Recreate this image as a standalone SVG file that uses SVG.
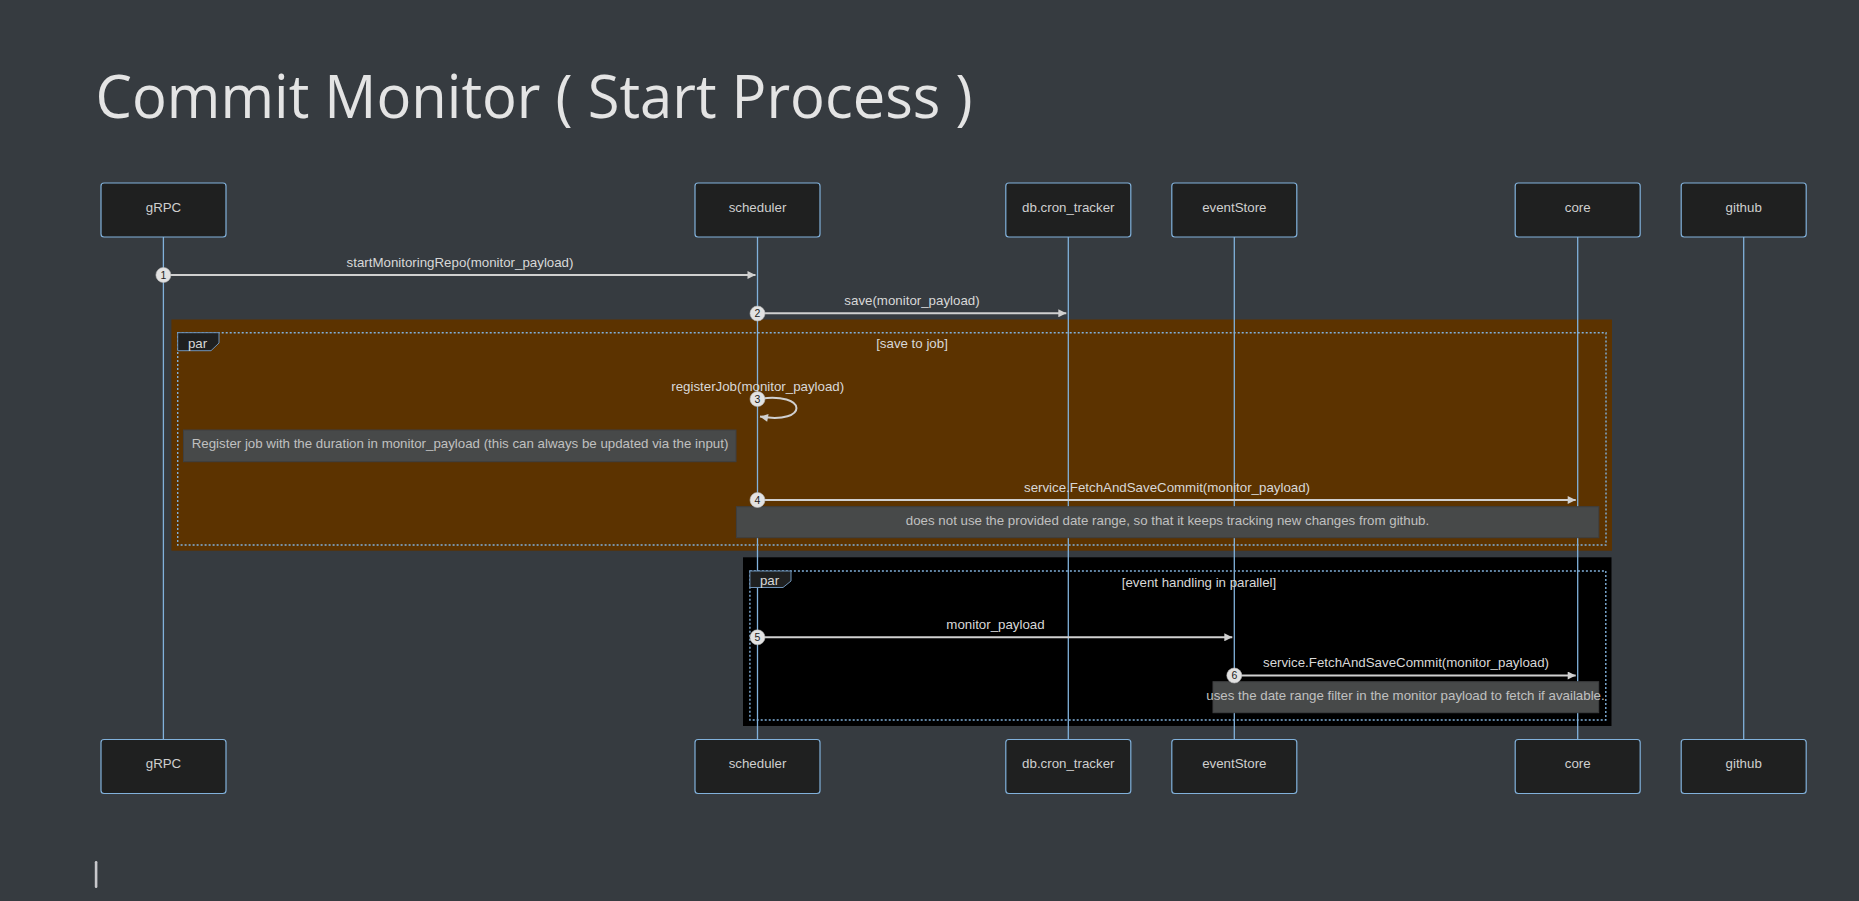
<svg xmlns="http://www.w3.org/2000/svg" width="1859" height="901" viewBox="0 0 1859 901">
<defs>
<marker id="arr" viewBox="0 0 10 10" refX="10" refY="5" markerUnits="userSpaceOnUse" markerWidth="9" markerHeight="8" orient="auto">
<path d="M0,0 L10,5 L0,10 z" fill="#d0d0d0"/>
</marker>
<style>
.actor rect{fill:#1f2020;stroke:#81B1DB;stroke-width:1.2}
.actor text{fill:#cfcfcf;font-family:"Liberation Sans",Arial,sans-serif;font-size:13.3px;text-anchor:middle}
.life{stroke:#81B1DB;stroke-width:1.3}
.msg{stroke:#d0d0d0;stroke-width:2;fill:none;marker-end:url(#arr)}
.lbl{fill:#d8d8d8;font-family:"Liberation Sans",Arial,sans-serif;font-size:13.3px;text-anchor:middle}
.frame{fill:none;stroke:#81B1DB;stroke-width:1.4;stroke-dasharray:2 2}
.tab{fill:#1f2020;stroke:#6f93b8;stroke-width:1}
.note rect{fill:#474949;stroke:#3e3f40;stroke-width:1}
.note text{fill:#c0c0c0;font-family:"Liberation Sans",Arial,sans-serif;font-size:13.3px;text-anchor:middle}
.num circle{fill:#e2e2e2;stroke:#bbb;stroke-width:0.6}
.num text{fill:#222;font-family:"Liberation Sans",Arial,sans-serif;font-size:10.5px;text-anchor:middle}
</style>
</defs>
<rect width="1859" height="901" fill="#363b40"/>
<text x="95.5" y="118" font-family="'Open Sans','Noto Sans',sans-serif" font-size="60" fill="#e4e4e4" textLength="877" lengthAdjust="spacingAndGlyphs">Commit Monitor ( Start Process )</text>

<g id="gRPC" class="actor">
<rect x="101" y="183" width="125" height="54" rx="3"/><text x="163.5" y="211.5">gRPC</text>
<rect x="101" y="739.5" width="125" height="54" rx="3"/><text x="163.5" y="768">gRPC</text>
</g>
<g id="scheduler" class="actor">
<rect x="695" y="183" width="125" height="54" rx="3"/><text x="757.5" y="211.5">scheduler</text>
<rect x="695" y="739.5" width="125" height="54" rx="3"/><text x="757.5" y="768">scheduler</text>
</g>
<g id="db_cron_tracker" class="actor">
<rect x="1005.8" y="183" width="125" height="54" rx="3"/><text x="1068.3" y="211.5">db.cron_tracker</text>
<rect x="1005.8" y="739.5" width="125" height="54" rx="3"/><text x="1068.3" y="768">db.cron_tracker</text>
</g>
<g id="eventStore" class="actor">
<rect x="1171.8" y="183" width="125" height="54" rx="3"/><text x="1234.3" y="211.5">eventStore</text>
<rect x="1171.8" y="739.5" width="125" height="54" rx="3"/><text x="1234.3" y="768">eventStore</text>
</g>
<g id="core" class="actor">
<rect x="1515.2" y="183" width="125" height="54" rx="3"/><text x="1577.7" y="211.5">core</text>
<rect x="1515.2" y="739.5" width="125" height="54" rx="3"/><text x="1577.7" y="768">core</text>
</g>
<g id="github" class="actor">
<rect x="1681.2" y="183" width="125" height="54" rx="3"/><text x="1743.7" y="211.5">github</text>
<rect x="1681.2" y="739.5" width="125" height="54" rx="3"/><text x="1743.7" y="768">github</text>
</g>

<g id="par1-bg"><rect x="171.4" y="319.5" width="1440.6" height="231.2" fill="#5c3300"/></g>
<g id="par2-bg"><rect x="743" y="557.3" width="868.5" height="168.7" fill="#000000"/></g>

<g id="lifelines">
<line class="life" x1="163.4" y1="237" x2="163.4" y2="739.5"/>
<line class="life" x1="757.5" y1="237" x2="757.5" y2="739.5"/>
<line class="life" x1="1068.3" y1="237" x2="1068.3" y2="739.5"/>
<line class="life" x1="1234.3" y1="237" x2="1234.3" y2="739.5"/>
<line class="life" x1="1577.7" y1="237" x2="1577.7" y2="739.5"/>
<line class="life" x1="1743.7" y1="237" x2="1743.7" y2="739.5"/>
</g>

<g id="par1">
<rect class="frame" x="177.7" y="332.7" width="1428.3" height="212.3"/>
<polygon class="tab" points="177.7,332.7 219,332.7 219,343 211,350.7 177.7,350.7"/>
<text class="lbl" x="197.5" y="347.5">par</text>
<text class="lbl" x="912" y="347.5">[save to job]</text>
</g>
<g id="par2">
<rect class="frame" x="749.9" y="571" width="855.9" height="149"/>
<polygon class="tab" points="749.9,571 791,571 791,581 783,587.5 749.9,587.5"/>
<text class="lbl" x="769.5" y="585">par</text>
<text class="lbl" x="1199" y="586.5">[event handling in parallel]</text>
</g>

<g id="connectors">
<line class="msg" x1="163.4" y1="275" x2="755.5" y2="275"/>
<text class="lbl" x="460" y="267">startMonitoringRepo(monitor_payload)</text>
<line class="msg" x1="757.5" y1="313.3" x2="1066.3" y2="313.3"/>
<text class="lbl" x="912" y="305">save(monitor_payload)</text>
<path class="msg" d="M757.5,399 C809,391 809,425 760,416.5"/>
<text class="lbl" x="757.7" y="390.5">registerJob(monitor_payload)</text>
<line class="msg" x1="757.5" y1="500" x2="1575.7" y2="500"/>
<text class="lbl" x="1167" y="491.5">service.FetchAndSaveCommit(monitor_payload)</text>
<line class="msg" x1="757.5" y1="637.3" x2="1232.3" y2="637.3"/>
<text class="lbl" x="995.5" y="628.5">monitor_payload</text>
<line class="msg" x1="1234.3" y1="675.5" x2="1575.7" y2="675.5"/>
<text class="lbl" x="1406" y="666.5">service.FetchAndSaveCommit(monitor_payload)</text>
</g>

<g id="note1" class="note"><rect x="183.5" y="430" width="552.5" height="31.7"/><text x="460" y="447.5">Register job with the duration in monitor_payload (this can always be updated via the input)</text></g>
<g id="note2" class="note"><rect x="736.4" y="506.7" width="862.4" height="31"/><text x="1167.5" y="525">does not use the provided date range, so that it keeps tracking new changes from github.</text></g>
<g id="note3" class="note"><rect x="1213" y="681.7" width="385.7" height="31"/><text x="1405.5" y="699.5">uses the date range filter in the monitor payload to fetch if available.</text></g>

<g id="numbers" class="num">
<circle cx="163.4" cy="275" r="7.5"/><text x="163.4" y="278.7">1</text>
<circle cx="757.5" cy="313.5" r="7.5"/><text x="757.5" y="317.2">2</text>
<circle cx="757.5" cy="399" r="7.5"/><text x="757.5" y="402.7">3</text>
<circle cx="757.5" cy="500" r="7.5"/><text x="757.5" y="503.7">4</text>
<circle cx="757.5" cy="637.3" r="7.5"/><text x="757.5" y="641">5</text>
<circle cx="1234.3" cy="675.5" r="7.5"/><text x="1234.3" y="679.2">6</text>
</g>

<rect x="94.8" y="861" width="2.6" height="27" rx="1.2" fill="#c8c8cc"/>
</svg>
